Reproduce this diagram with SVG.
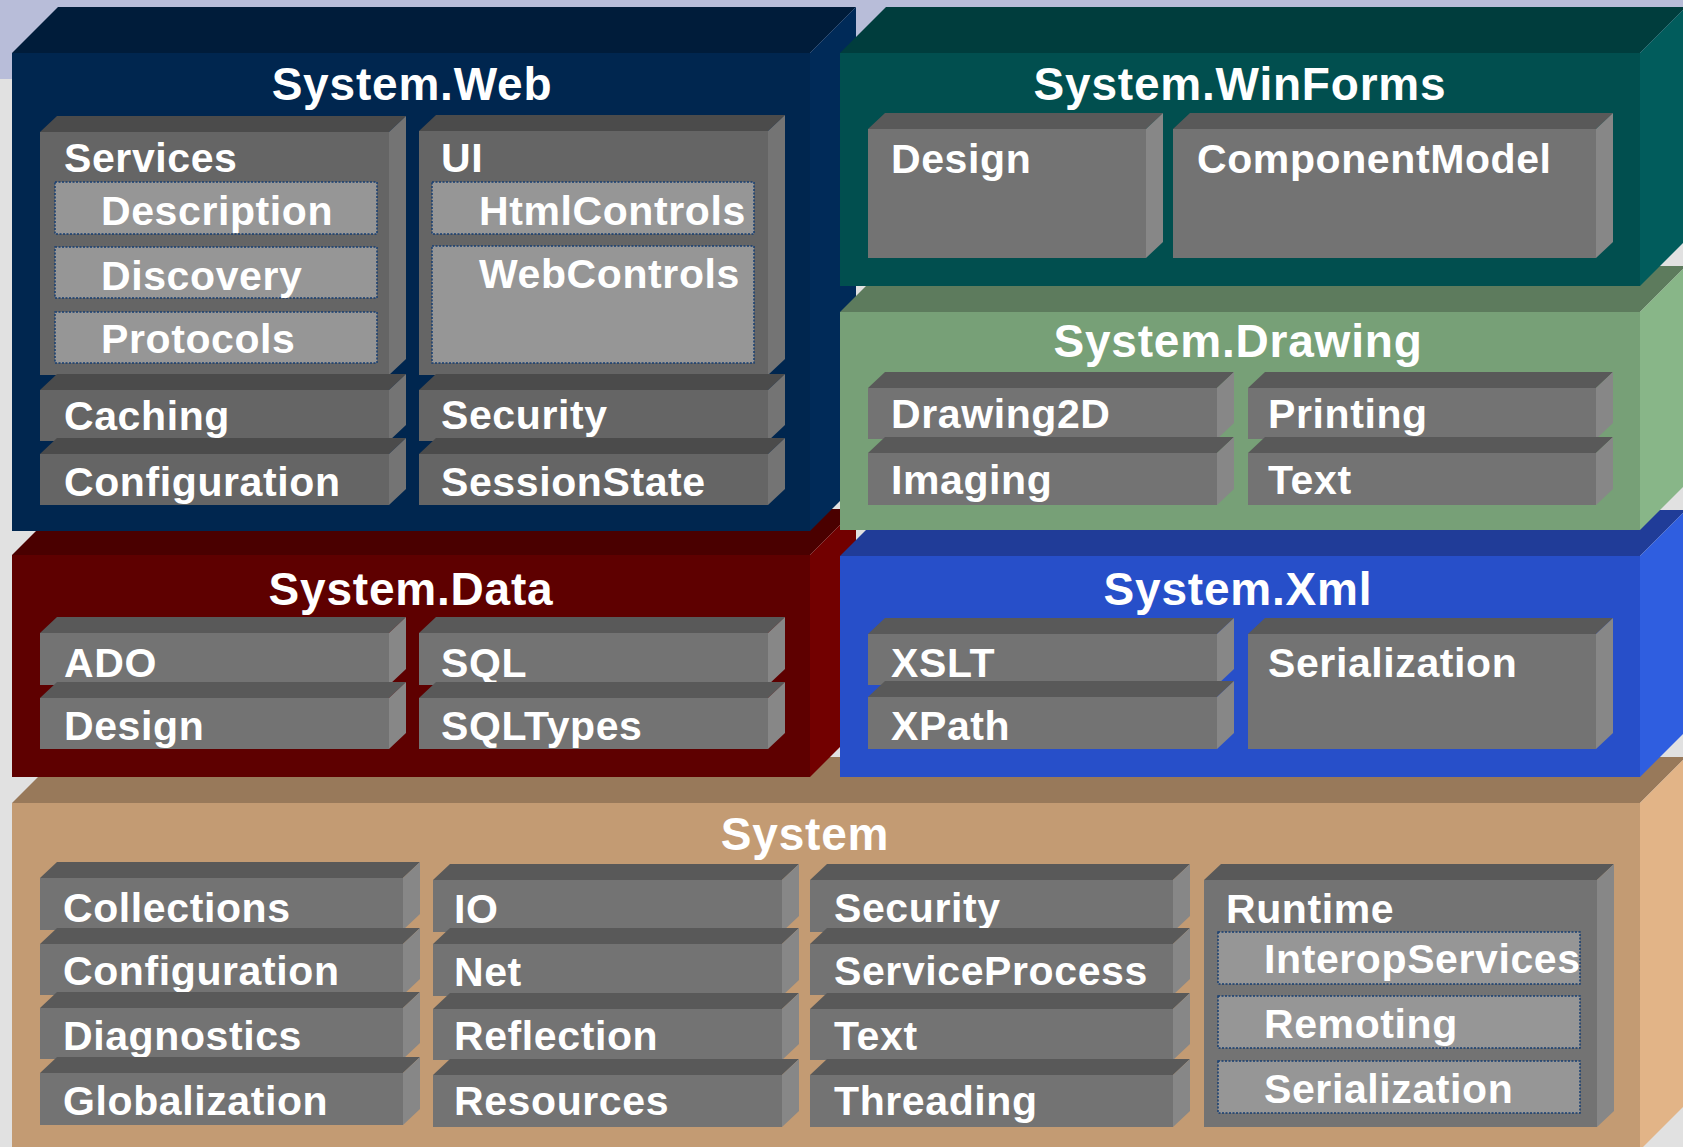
<svg xmlns="http://www.w3.org/2000/svg" width="1683" height="1147" viewBox="0 0 1683 1147">
  <style>
    text { font-family: "Liberation Sans", Arial, sans-serif; font-weight: bold; fill: #ffffff; }
    .title { font-size: 46px; letter-spacing: 0.8px; text-anchor: middle; }
    .lbl { font-size: 41px; letter-spacing: 0.6px; }
    .web-f { fill: #00264f; } .web-t { fill: #001c3a; } .web-s { fill: #002a58; }
    .wf-f { fill: #014f4f; } .wf-t { fill: #003d3d; } .wf-s { fill: #015c5c; }
    .dr-f { fill: #77a077; } .dr-t { fill: #5d7b5d; } .dr-s { fill: #88b688; }
    .da-f { fill: #5e0000; } .da-t { fill: #4a0000; } .da-s { fill: #720000; }
    .xm-f { fill: #274fc9; } .xm-t { fill: #203c98; } .xm-s { fill: #2f5ee0; }
    .sy-f { fill: #c39b73; } .sy-t { fill: #98795a; } .sy-s { fill: #e2b487; }
    .bf { fill: #737373; } .bt { fill: #595959; } .bs { fill: #878787; }
    .wbf { fill: #656565; } .wbt { fill: #4b4b4b; } .wbs { fill: #747474; }
    .dash { fill: #969696; stroke: #163e72; stroke-width: 1.5; stroke-dasharray: 2 1.5; }
  </style>

  <!-- backdrop -->
  <rect x="0" y="0" width="1683" height="1147" fill="#e1e1e1"/>
  <rect x="0" y="0" width="1683" height="79" fill="#b8bdd9"/>

  <!-- System (base layer) -->
  <g id="system">
    <polygon class="sy-t" points="12,803 58,757 1686,757 1640,803"/>
    <polygon class="sy-s" points="1640,803 1686,757 1686,1104 1640,1150"/>
    <rect class="sy-f" x="12" y="803" width="1628" height="347"/>
    <text class="title" x="805" y="850">System</text>

    <g id="sys-collections">
      <polygon class="bt" points="40,878 57,862 420,862 403,878"/>
      <polygon class="bs" points="403,878 420,862 420,914 403,930"/>
      <rect class="bf" x="40" y="878" width="363" height="52"/>
      <text class="lbl" x="63" y="922">Collections</text>
    </g>
    <g id="sys-configuration">
      <polygon class="bt" points="40,944 57,928 420,928 403,944"/>
      <polygon class="bs" points="403,944 420,928 420,979 403,995"/>
      <rect class="bf" x="40" y="944" width="363" height="51"/>
      <text class="lbl" x="63" y="985">Configuration</text>
    </g>
    <g id="sys-diagnostics">
      <polygon class="bt" points="40,1008 57,992 420,992 403,1008"/>
      <polygon class="bs" points="403,1008 420,992 420,1043 403,1059"/>
      <rect class="bf" x="40" y="1008" width="363" height="51"/>
      <text class="lbl" x="63" y="1050">Diagnostics</text>
    </g>
    <g id="sys-globalization">
      <polygon class="bt" points="40,1073 57,1057 420,1057 403,1073"/>
      <polygon class="bs" points="403,1073 420,1057 420,1109 403,1125"/>
      <rect class="bf" x="40" y="1073" width="363" height="52"/>
      <text class="lbl" x="63" y="1115">Globalization</text>
    </g>

    <g id="sys-io">
      <polygon class="bt" points="433,880 450,864 799,864 782,880"/>
      <polygon class="bs" points="782,880 799,864 799,916 782,932"/>
      <rect class="bf" x="433" y="880" width="349" height="52"/>
      <text class="lbl" x="454" y="923">IO</text>
    </g>
    <g id="sys-net">
      <polygon class="bt" points="433,944 450,928 799,928 782,944"/>
      <polygon class="bs" points="782,944 799,928 799,980 782,996"/>
      <rect class="bf" x="433" y="944" width="349" height="52"/>
      <text class="lbl" x="454" y="986">Net</text>
    </g>
    <g id="sys-reflection">
      <polygon class="bt" points="433,1009 450,993 799,993 782,1009"/>
      <polygon class="bs" points="782,1009 799,993 799,1044 782,1060"/>
      <rect class="bf" x="433" y="1009" width="349" height="51"/>
      <text class="lbl" x="454" y="1050">Reflection</text>
    </g>
    <g id="sys-resources">
      <polygon class="bt" points="433,1075 450,1059 799,1059 782,1075"/>
      <polygon class="bs" points="782,1075 799,1059 799,1111 782,1127"/>
      <rect class="bf" x="433" y="1075" width="349" height="52"/>
      <text class="lbl" x="454" y="1115">Resources</text>
    </g>

    <g id="sys-security">
      <polygon class="bt" points="810,880 827,864 1190,864 1173,880"/>
      <polygon class="bs" points="1173,880 1190,864 1190,916 1173,932"/>
      <rect class="bf" x="810" y="880" width="363" height="52"/>
      <text class="lbl" x="834" y="922">Security</text>
    </g>
    <g id="sys-serviceprocess">
      <polygon class="bt" points="810,944 827,928 1190,928 1173,944"/>
      <polygon class="bs" points="1173,944 1190,928 1190,979 1173,995"/>
      <rect class="bf" x="810" y="944" width="363" height="51"/>
      <text class="lbl" x="834" y="985">ServiceProcess</text>
    </g>
    <g id="sys-text">
      <polygon class="bt" points="810,1009 827,993 1190,993 1173,1009"/>
      <polygon class="bs" points="1173,1009 1190,993 1190,1044 1173,1060"/>
      <rect class="bf" x="810" y="1009" width="363" height="51"/>
      <text class="lbl" x="834" y="1050">Text</text>
    </g>
    <g id="sys-threading">
      <polygon class="bt" points="810,1075 827,1059 1190,1059 1173,1075"/>
      <polygon class="bs" points="1173,1075 1190,1059 1190,1111 1173,1127"/>
      <rect class="bf" x="810" y="1075" width="363" height="52"/>
      <text class="lbl" x="834" y="1115">Threading</text>
    </g>

    <g id="sys-runtime">
      <polygon class="bt" points="1204,880 1221,864 1614,864 1597,880"/>
      <polygon class="bs" points="1597,880 1614,864 1614,1111 1597,1127"/>
      <rect class="bf" x="1204" y="880" width="393" height="247"/>
      <text class="lbl" x="1226" y="923">Runtime</text>
      <rect class="dash" x="1218" y="932" width="362" height="52"/>
      <text class="lbl" x="1264" y="973">InteropServices</text>
      <rect class="dash" x="1218" y="996" width="362" height="52"/>
      <text class="lbl" x="1264" y="1038">Remoting</text>
      <rect class="dash" x="1218" y="1061" width="362" height="52"/>
      <text class="lbl" x="1264" y="1103">Serialization</text>
    </g>
  </g>

  <!-- System.Data -->
  <g id="system-data">
    <polygon class="da-t" points="12,555 58,509 856,509 810,555"/>
    <polygon class="da-s" points="810,555 856,509 856,731 810,777"/>
    <rect class="da-f" x="12" y="555" width="798" height="222"/>
    <text class="title" x="411" y="605">System.Data</text>
    <g id="data-ado">
      <polygon class="bt" points="40,633 57,617 406,617 389,633"/>
      <polygon class="bs" points="389,633 406,617 406,669 389,685"/>
      <rect class="bf" x="40" y="633" width="349" height="52"/>
      <text class="lbl" x="64" y="677">ADO</text>
    </g>
    <g id="data-design">
      <polygon class="bt" points="40,698 57,682 406,682 389,698"/>
      <polygon class="bs" points="389,698 406,682 406,733 389,749"/>
      <rect class="bf" x="40" y="698" width="349" height="51"/>
      <text class="lbl" x="64" y="740">Design</text>
    </g>
    <g id="data-sql">
      <polygon class="bt" points="419,633 436,617 785,617 768,633"/>
      <polygon class="bs" points="768,633 785,617 785,669 768,685"/>
      <rect class="bf" x="419" y="633" width="349" height="52"/>
      <text class="lbl" x="441" y="677">SQL</text>
    </g>
    <g id="data-sqltypes">
      <polygon class="bt" points="419,698 436,682 785,682 768,698"/>
      <polygon class="bs" points="768,698 785,682 785,733 768,749"/>
      <rect class="bf" x="419" y="698" width="349" height="51"/>
      <text class="lbl" x="441" y="740">SQLTypes</text>
    </g>
  </g>

  <!-- System.Xml -->
  <g id="system-xml">
    <polygon class="xm-t" points="840,556 886,510 1686,510 1640,556"/>
    <polygon class="xm-s" points="1640,556 1686,510 1686,731 1640,777"/>
    <rect class="xm-f" x="840" y="556" width="800" height="221"/>
    <text class="title" x="1238" y="605">System.Xml</text>
    <g id="xml-xslt">
      <polygon class="bt" points="868,634 885,618 1234,618 1217,634"/>
      <polygon class="bs" points="1217,634 1234,618 1234,669 1217,685"/>
      <rect class="bf" x="868" y="634" width="349" height="51"/>
      <text class="lbl" x="891" y="677">XSLT</text>
    </g>
    <g id="xml-xpath">
      <polygon class="bt" points="868,697 885,681 1234,681 1217,697"/>
      <polygon class="bs" points="1217,697 1234,681 1234,733 1217,749"/>
      <rect class="bf" x="868" y="697" width="349" height="52"/>
      <text class="lbl" x="891" y="740">XPath</text>
    </g>
    <g id="xml-serialization">
      <polygon class="bt" points="1248,634 1265,618 1613,618 1596,634"/>
      <polygon class="bs" points="1596,634 1613,618 1613,733 1596,749"/>
      <rect class="bf" x="1248" y="634" width="348" height="115"/>
      <text class="lbl" x="1268" y="677">Serialization</text>
    </g>
  </g>

  <!-- System.Web -->
  <g id="system-web">
    <polygon class="web-t" points="12,53 58,7 856,7 810,53"/>
    <polygon class="web-s" points="810,53 856,7 856,485 810,531"/>
    <rect class="web-f" x="12" y="53" width="798" height="478"/>
    <text class="title" x="412" y="100">System.Web</text>

    <g id="web-services">
      <polygon class="wbt" points="40,132 57,116 406,116 389,132"/>
      <polygon class="wbs" points="389,132 406,116 406,359 389,375"/>
      <rect class="wbf" x="40" y="132" width="349" height="243"/>
      <text class="lbl" x="64" y="172">Services</text>
      <rect class="dash" x="55" y="182" width="322" height="52"/>
      <text class="lbl" x="101" y="225">Description</text>
      <rect class="dash" x="55" y="247" width="322" height="51"/>
      <text class="lbl" x="101" y="290">Discovery</text>
      <rect class="dash" x="55" y="312" width="322" height="51"/>
      <text class="lbl" x="101" y="353">Protocols</text>
    </g>
    <g id="web-caching">
      <polygon class="wbt" points="40,390 57,374 406,374 389,390"/>
      <polygon class="wbs" points="389,390 406,374 406,425 389,441"/>
      <rect class="wbf" x="40" y="390" width="349" height="51"/>
      <text class="lbl" x="64" y="430">Caching</text>
    </g>
    <g id="web-configuration">
      <polygon class="wbt" points="40,454 57,438 406,438 389,454"/>
      <polygon class="wbs" points="389,454 406,438 406,489 389,505"/>
      <rect class="wbf" x="40" y="454" width="349" height="51"/>
      <text class="lbl" x="64" y="496">Configuration</text>
    </g>

    <g id="web-ui">
      <polygon class="wbt" points="419,131 436,115 785,115 768,131"/>
      <polygon class="wbs" points="768,131 785,115 785,359 768,375"/>
      <rect class="wbf" x="419" y="131" width="349" height="244"/>
      <text class="lbl" x="441" y="172">UI</text>
      <rect class="dash" x="432" y="182" width="322" height="52"/>
      <text class="lbl" x="479" y="225">HtmlControls</text>
      <rect class="dash" x="432" y="246" width="322" height="117"/>
      <text class="lbl" x="479" y="288">WebControls</text>
    </g>
    <g id="web-security">
      <polygon class="wbt" points="419,390 436,374 785,374 768,390"/>
      <polygon class="wbs" points="768,390 785,374 785,425 768,441"/>
      <rect class="wbf" x="419" y="390" width="349" height="51"/>
      <text class="lbl" x="441" y="429">Security</text>
    </g>
    <g id="web-sessionstate">
      <polygon class="wbt" points="419,454 436,438 785,438 768,454"/>
      <polygon class="wbs" points="768,454 785,438 785,489 768,505"/>
      <rect class="wbf" x="419" y="454" width="349" height="51"/>
      <text class="lbl" x="441" y="496">SessionState</text>
    </g>
  </g>

  <!-- System.Drawing -->
  <g id="system-drawing">
    <polygon class="dr-t" points="840,312 886,266 1686,266 1640,312"/>
    <polygon class="dr-s" points="1640,312 1686,266 1686,484 1640,530"/>
    <rect class="dr-f" x="840" y="312" width="800" height="218"/>
    <text class="title" x="1238" y="357">System.Drawing</text>
    <g id="drawing-drawing2d">
      <polygon class="bt" points="868,388 885,372 1234,372 1217,388"/>
      <polygon class="bs" points="1217,388 1234,372 1234,423 1217,439"/>
      <rect class="bf" x="868" y="388" width="349" height="51"/>
      <text class="lbl" x="891" y="428">Drawing2D</text>
    </g>
    <g id="drawing-imaging">
      <polygon class="bt" points="868,453 885,437 1234,437 1217,453"/>
      <polygon class="bs" points="1217,453 1234,437 1234,489 1217,505"/>
      <rect class="bf" x="868" y="453" width="349" height="52"/>
      <text class="lbl" x="891" y="494">Imaging</text>
    </g>
    <g id="drawing-printing">
      <polygon class="bt" points="1248,388 1265,372 1613,372 1596,388"/>
      <polygon class="bs" points="1596,388 1613,372 1613,423 1596,439"/>
      <rect class="bf" x="1248" y="388" width="348" height="51"/>
      <text class="lbl" x="1268" y="428">Printing</text>
    </g>
    <g id="drawing-text">
      <polygon class="bt" points="1248,453 1265,437 1613,437 1596,453"/>
      <polygon class="bs" points="1596,453 1613,437 1613,489 1596,505"/>
      <rect class="bf" x="1248" y="453" width="348" height="52"/>
      <text class="lbl" x="1268" y="494">Text</text>
    </g>
  </g>

  <!-- System.WinForms -->
  <g id="system-winforms">
    <polygon class="wf-t" points="840,53 886,7 1686,7 1640,53"/>
    <polygon class="wf-s" points="1640,53 1686,7 1686,240 1640,286"/>
    <rect class="wf-f" x="840" y="53" width="800" height="233"/>
    <text class="title" x="1240" y="100">System.WinForms</text>
    <g id="winforms-design">
      <polygon class="bt" points="868,129 885,113 1163,113 1146,129"/>
      <polygon class="bs" points="1146,129 1163,113 1163,242 1146,258"/>
      <rect class="bf" x="868" y="129" width="278" height="129"/>
      <text class="lbl" x="891" y="173">Design</text>
    </g>
    <g id="winforms-componentmodel">
      <polygon class="bt" points="1173,129 1190,113 1613,113 1596,129"/>
      <polygon class="bs" points="1596,129 1613,113 1613,242 1596,258"/>
      <rect class="bf" x="1173" y="129" width="423" height="129"/>
      <text class="lbl" x="1197" y="173">ComponentModel</text>
    </g>
  </g>

  <!-- no connectors in this layered diagram -->
  <g id="connectors"/>
</svg>
